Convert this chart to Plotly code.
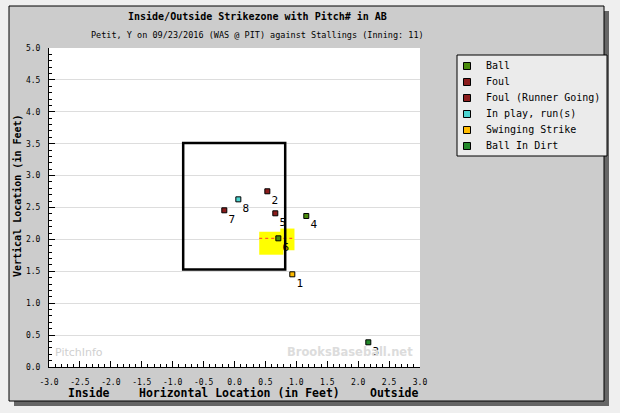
import plotly.graph_objects as go

# ---- data ----
pitch_num = [1, 2, 3, 4, 5, 6, 7, 8]
pitch_x = [0.935, 0.531, 2.164, 1.161, 0.66, 0.709, -0.165, 0.062]
pitch_y = [1.453, 2.754, 0.387, 2.367, 2.409, 2.017, 2.456, 2.628]
pitch_type = ["Swinging Strike", "Foul", "Ball In Dirt", "Ball", "Foul",
              "Ball", "Foul (Runner Going)", "In play, run(s)"]
legend_order = ["Ball", "Foul", "Foul (Runner Going)", "In play, run(s)",
                "Swinging Strike", "Ball In Dirt"]
type_colors = {"Ball": "#4a8c0c", "Foul": "#8b1c1c", "Foul (Runner Going)": "#8b1c1c",
               "In play, run(s)": "#4cd4d0", "Swinging Strike": "#ffbb00",
               "Ball In Dirt": "#22882a"}
zone_x = [-0.83, 0.82]
zone_y = [1.53, 3.51]
x_ticks = [-3.0, -2.5, -2.0, -1.5, -1.0, -0.5, 0.0, 0.5, 1.0, 1.5, 2.0, 2.5, 3.0]
y_ticks = [0.0, 0.5, 1.0, 1.5, 2.0, 2.5, 3.0, 3.5, 4.0, 4.5, 5.0]

W, H = 620, 413
L, R, T, B = 49, 420, 48, 367          # plot area in pixels
LG_L, LG_R, LG_T, LG_B = 457, 607, 55, 156   # legend box in pixels


def fx(x):
    return x / W


def fy(y):
    return (H - y) / H


MONO = "DejaVu Sans Mono"

fig = go.Figure()
for t in legend_order:
    idx = [i for i, p in enumerate(pitch_type) if p == t]
    fig.add_trace(go.Scatter(
        x=[pitch_x[i] for i in idx], y=[pitch_y[i] for i in idx],
        text=[str(pitch_num[i]) for i in idx],
        mode="markers+text", textposition="bottom right",
        textfont=dict(family=MONO, size=11, color="black"),
        marker=dict(symbol="square", size=5, color=type_colors[t],
                    line=dict(color="black", width=1)),
        name=t, cliponaxis=False, showlegend=False,
    ))

# legend drawn on its own small axis (x in pixels from box left, y = entry index)
leg_idx = list(range(len(legend_order)))
fig.add_trace(go.Scatter(
    x=[10] * len(legend_order), y=leg_idx, xaxis="x2", yaxis="y2",
    mode="markers", showlegend=False, hoverinfo="skip",
    marker=dict(symbol="square", size=7, color=[type_colors[t] for t in legend_order],
                line=dict(color="black", width=1)),
))

shapes = [
    # drop shadow & frame
    dict(type="rect", xref="paper", yref="paper", x0=fx(14), x1=fx(609), y0=fy(11), y1=fy(406),
         fillcolor="#666666", line=dict(width=0), layer="below"),
    dict(type="rect", xref="paper", yref="paper", x0=fx(9), x1=fx(604), y0=fy(6), y1=fy(401),
         fillcolor="#cccccc", line=dict(color="black", width=1), layer="below"),
    dict(type="rect", xref="paper", yref="paper", x0=fx(L), x1=fx(R), y0=fy(B), y1=fy(T),
         fillcolor="white", line=dict(width=0), layer="below"),
    # legend box
    dict(type="rect", xref="paper", yref="paper", x0=fx(LG_L), x1=fx(LG_R), y0=fy(LG_B), y1=fy(LG_T),
         fillcolor="#ebebeb", line=dict(color="black", width=1), layer="below"),
    # highlight blob for pitch 6
    dict(type="rect", xref="x", yref="y", x0=0.40, x1=0.79, y0=1.76, y1=2.12,
         fillcolor="#ffff00", line=dict(width=0), layer="between"),
    dict(type="rect", xref="x", yref="y", x0=0.74, x1=0.97, y0=1.83, y1=2.17,
         fillcolor="#ffff00", line=dict(width=0), layer="between"),
    dict(type="line", xref="x", yref="y", x0=0.40, x1=0.97, y0=pitch_y[5], y1=pitch_y[5],
         line=dict(color="#ff3333", width=1, dash="dot"), layer="between"),
    # strike zone
    dict(type="rect", xref="x", yref="y", x0=zone_x[0], x1=zone_x[1], y0=zone_y[0], y1=zone_y[1],
         line=dict(color="black", width=2.5), layer="between"),
]

annotations = [
    dict(text="Inside/Outside Strikezone with Pitch# in AB", x=fx(257), y=fy(17),
         font=dict(family=MONO, size=10, color="black", weight="bold")),
    dict(text="Petit, Y on 09/23/2016 (WAS @ PIT) against Stallings (Inning: 11)", x=fx(257), y=fy(35),
         font=dict(family=MONO, size=8.5, color="black")),
    dict(text="Horizontal Location (in Feet)", x=fx(239), y=fy(393),
         font=dict(family=MONO, size=11.5, color="black", weight="bold")),
    dict(text="Inside", x=fx(89), y=fy(393),
         font=dict(family=MONO, size=11.5, color="black", weight="bold")),
    dict(text="Outside", x=fx(394), y=fy(393),
         font=dict(family=MONO, size=11.5, color="black", weight="bold")),
    dict(text="Vertical Location (in Feet)", x=fx(18), y=fy(196), textangle=-90,
         font=dict(family=MONO, size=10, color="black", weight="bold")),
    dict(text="PitchInfo", x=fx(53), y=fy(352), xanchor="left",
         font=dict(family="DejaVu Sans", size=11, color="#d0d0d0")),
    dict(text="BrooksBaseball.net", x=fx(415), y=fy(352), xanchor="right",
         font=dict(family="DejaVu Sans", size=11.5, color="#dcdcdc", weight="bold")),
]
for a in annotations:
    a.update(xref="paper", yref="paper", showarrow=False)
    a.setdefault("xanchor", "center")
    a.setdefault("yanchor", "middle")

for i, t in zip(leg_idx, legend_order):
    annotations.append(dict(text=t, x=27, y=i, xref="x2", yref="y2", showarrow=False,
                            xanchor="left", yanchor="middle",
                            font=dict(family=MONO, size=10, color="black")))

tick_font = dict(family=MONO, size=8, color="black")
fig.update_layout(
    width=W, height=H,
    margin=dict(l=0, r=0, t=0, b=0, pad=0, autoexpand=False),
    paper_bgcolor="#efefef", plot_bgcolor="rgba(0,0,0,0)",
    shapes=shapes, annotations=annotations,
    showlegend=False,
    xaxis=dict(domain=[fx(L), fx(R)], range=[-3, 3], tickvals=x_ticks,
               ticktext=[f"{v:.1f}" for v in x_ticks], automargin=False,
               showgrid=False, zeroline=False, showline=True, linecolor="black", linewidth=1,
               ticks="inside", ticklen=6, tickcolor="black", tickfont=tick_font,
               ticklabelstandoff=7,
               minor=dict(dtick=0.1, ticks="inside", ticklen=3, tickcolor="black", showgrid=False),
               fixedrange=True),
    yaxis=dict(domain=[fy(B), fy(T)], range=[0, 5], tickvals=y_ticks,
               ticktext=[f"{v:.1f}" for v in y_ticks], automargin=False,
               showgrid=True, gridcolor="#dddddd", gridwidth=1, zeroline=False,
               showline=True, linecolor="black", linewidth=1,
               ticks="inside", ticklen=6, tickcolor="black", tickfont=tick_font,
               ticklabelstandoff=6,
               minor=dict(dtick=0.1, ticks="inside", ticklen=3, tickcolor="black", showgrid=False),
               fixedrange=True),
    xaxis2=dict(domain=[fx(LG_L), fx(LG_R)], range=[0, LG_R - LG_L], anchor="y2",
                visible=False, fixedrange=True, automargin=False),
    yaxis2=dict(domain=[fy(LG_B), fy(LG_T)],
                range=[(LG_B - 66) / 16.0, (LG_T - 66) / 16.0], anchor="x2",
                visible=False, fixedrange=True, automargin=False),
)

fig.write_html("out.html")
